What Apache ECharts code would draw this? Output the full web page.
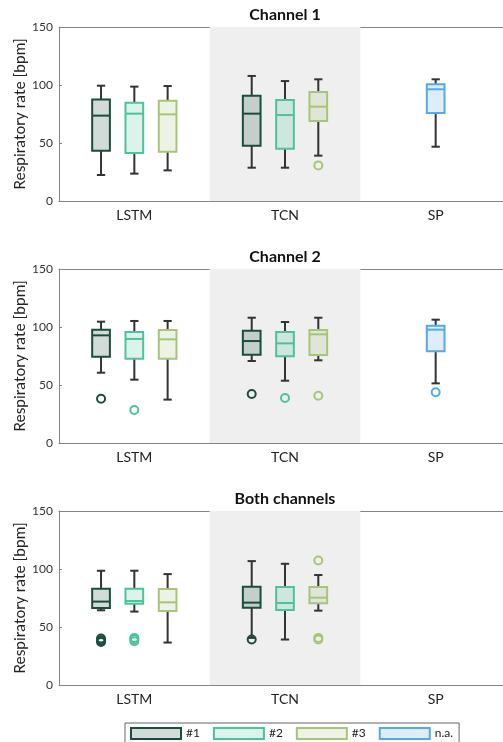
<!DOCTYPE html>
<html>
<head>
<meta charset="utf-8">
<script src="https://cdn.jsdelivr.net/npm/echarts@6/dist/echarts.min.js"></script>
<style>html,body{margin:0;padding:0;background:#fff}#c{width:503px;height:742px}</style>
</head>
<body>
<div id="c"></div>
<script>
// ---- data ----
const categories = ['LSTM', 'TCN', 'SP'];
const groupNames = ['#1', '#2', '#3', 'n.a.'];
const panelTitles = ['Channel 1', 'Channel 2', 'Both channels'];
const yTicks = [0, 50, 100, 150];
// box stats per category: [lowWhisker, Q1, median, Q3, highWhisker]; null = no box
const ch1_g1 = [[22.4, 43.4, 73.6, 87.6, 99.4], [28.7, 47.7, 75.3, 90.8, 107.8], null];
const ch1_g2 = [[23.6, 41.4, 75.3, 84.8, 98.6], [28.7, 45.1, 74.1, 87.1, 103.4], null];
const ch1_g3 = [[26.4, 42.5, 74.7, 86.5, 99.1], [39.1, 69.0, 81.3, 94.0, 104.9], null];
const ch1_na = [null, null, [46.8, 75.9, 96.3, 100.6, 104.9]];
const ch2_g1 = [[60.6, 74.4, 92.8, 97.7, 104.6], [70.7, 76.1, 87.9, 96.8, 108.0], null];
const ch2_g2 = [[54.6, 72.7, 89.7, 95.7, 105.2], [53.7, 74.7, 85.9, 95.7, 104.3], null];
const ch2_g3 = [[37.4, 72.7, 89.4, 97.4, 105.2], [71.3, 75.9, 93.7, 97.4, 108.0], null];
const ch2_na = [null, null, [51.4, 79.0, 97.7, 101.1, 106.3]];
const both_g1 = [[64.4, 66.4, 71.9, 83.0, 98.5], [40.6, 66.7, 71.0, 84.7, 106.8], null];
const both_g2 = [[63.3, 70.1, 72.4, 83.0, 98.5], [39.2, 64.7, 70.7, 84.5, 104.5], null];
const both_g3 = [[36.6, 63.8, 71.3, 82.7, 95.6], [64.1, 70.4, 75.3, 84.5, 94.8], null];
const both_na = [null, null, null];
// outliers: [categoryIndex, value]
const ch1_g1_out = [];
const ch1_g2_out = [];
const ch1_g3_out = [[1, 30.7]];
const ch1_na_out = [];
const ch2_g1_out = [[0, 38.2], [1, 42.2]];
const ch2_g2_out = [[0, 28.4], [1, 38.8]];
const ch2_g3_out = [[1, 40.8]];
const ch2_na_out = [[2, 43.7]];
const both_g1_out = [[0, 37.0], [0, 38.5], [0, 40.0], [1, 39.2]];
const both_g2_out = [[0, 37.8], [0, 39.5], [0, 40.6]];
const both_g3_out = [[1, 107.4], [1, 40.6], [1, 39.2]];
const both_na_out = [];

const panels = [
  { boxes: [ch1_g1, ch1_g2, ch1_g3, ch1_na], outs: [ch1_g1_out, ch1_g2_out, ch1_g3_out, ch1_na_out] },
  { boxes: [ch2_g1, ch2_g2, ch2_g3, ch2_na], outs: [ch2_g1_out, ch2_g2_out, ch2_g3_out, ch2_na_out] },
  { boxes: [both_g1, both_g2, both_g3, both_na], outs: [both_g1_out, both_g2_out, both_g3_out, both_na_out] }
];
// shaded band (TCN)
const bandData = ['-', 150, '-'];

// ---- styles ----
const strokes = ['#1b4d3b', '#4dc39a', '#a7c57a', '#56aae4'];
const fills = ['rgba(27,77,59,0.2)', 'rgba(77,195,154,0.2)', 'rgba(167,197,122,0.2)', 'rgba(86,170,228,0.2)'];
const slot = [-1, 0, 1, 0];
const SLOT_FRAC = 0.221, BOX_FRAC = 0.1175, CAP_FRAC = 0.055;
const whiskerColor = '#333';
const axisColor = '#858585';
const FONT = 'Lato';

const gridTops = [27, 269, 511];
const gridH = 174;

const grids = [], xAxes = [], yAxes = [], titles = [], series = [];
gridTops.forEach((top, p) => {
  grids.push({ left: 59, top: top, width: 452, height: gridH, outerBoundsMode: 'none', containLabel: false });
  xAxes.push({
    type: 'category', gridIndex: p, data: categories, boundaryGap: true,
    axisLine: { lineStyle: { color: axisColor, width: 1 } },
    axisTick: { inside: true, alignWithLabel: true, length: 3, lineStyle: { color: axisColor } },
    axisLabel: { color: '#222', fontFamily: FONT, fontSize: 14, margin: 7 },
    splitLine: { show: false }
  });
  xAxes.push({
    type: 'category', gridIndex: p, data: categories, boundaryGap: true, position: 'top',
    axisLine: { lineStyle: { color: axisColor, width: 1 } },
    axisTick: { inside: true, alignWithLabel: true, length: 3, lineStyle: { color: axisColor } },
    axisLabel: { show: false }, splitLine: { show: false }
  });
  yAxes.push({
    type: 'value', gridIndex: p, min: yTicks[0], max: yTicks[yTicks.length - 1], interval: 50,
    name: 'Respiratory rate [bpm]', nameLocation: 'middle', nameGap: 31, nameMoveOverlap: false,
    nameTextStyle: { color: '#222', fontFamily: FONT, fontSize: 15.5 },
    axisLine: { show: true, lineStyle: { color: axisColor, width: 1 } },
    axisTick: { show: true, inside: true, length: 3, lineStyle: { color: axisColor } },
    axisLabel: { color: '#333', fontFamily: FONT, fontSize: 12, margin: 6 },
    splitLine: { show: false }
  });
  titles.push({
    text: panelTitles[p], left: 285, top: top - 20, textAlign: 'center', padding: 0,
    textStyle: { fontFamily: FONT, fontWeight: 'bold', fontSize: 16, color: '#111' }
  });
  series.push({
    type: 'bar', xAxisIndex: p * 2, yAxisIndex: p, data: bandData, barWidth: '100%',
    itemStyle: { color: '#efefef' }, silent: true, z: 0, animation: false
  });
  panels[p].boxes.forEach((arr, g) => {
    const data = [];
    arr.forEach((b, ci) => { if (b) data.push([ci].concat(b)); });
    series.push({
      type: 'custom', name: groupNames[g], xAxisIndex: p * 2, yAxisIndex: p, z: 3,
      itemStyle: { color: fills[g], borderColor: strokes[g] },
      encode: { x: 0, y: [1, 2, 3, 4, 5] },
      data: data,
      renderItem: function (params, api) {
        const ci = api.value(0);
        const bw = api.size([1, 0])[0];
        const cx = api.coord([ci, 0])[0] + slot[g] * SLOT_FRAC * bw;
        const yy = [1, 2, 3, 4, 5].map(k => api.coord([ci, api.value(k)])[1]);
        const hw = BOX_FRAC * bw / 2, cw = CAP_FRAC * bw / 2;
        const wl = { stroke: whiskerColor, lineWidth: 2 };
        return {
          type: 'group', children: [
            { type: 'line', shape: { x1: cx, y1: yy[0], x2: cx, y2: yy[1] }, style: wl },
            { type: 'line', shape: { x1: cx, y1: yy[3], x2: cx, y2: yy[4] }, style: wl },
            { type: 'line', shape: { x1: cx - cw, y1: yy[0], x2: cx + cw, y2: yy[0] }, style: wl },
            { type: 'line', shape: { x1: cx - cw, y1: yy[4], x2: cx + cw, y2: yy[4] }, style: wl },
            { type: 'rect', shape: { x: cx - hw, y: yy[3], width: 2 * hw, height: yy[1] - yy[3] },
              style: { fill: fills[g], stroke: strokes[g], lineWidth: 2 } },
            { type: 'line', shape: { x1: cx - hw, y1: yy[2], x2: cx + hw, y2: yy[2] },
              style: { stroke: strokes[g], lineWidth: 2 } }
          ]
        };
      }
    });
    series.push({
      type: 'custom', name: groupNames[g], xAxisIndex: p * 2, yAxisIndex: p, z: 4,
      itemStyle: { color: fills[g], borderColor: strokes[g] },
      encode: { x: 0, y: 1 },
      data: panels[p].outs[g],
      renderItem: function (params, api) {
        const ci = api.value(0);
        const bw = api.size([1, 0])[0];
        const cx = api.coord([ci, 0])[0] + slot[g] * SLOT_FRAC * bw;
        const cy = api.coord([ci, api.value(1)])[1];
        return { type: 'circle', shape: { cx: cx, cy: cy, r: 4 },
          style: { fill: 'none', stroke: strokes[g], lineWidth: 2 } };
      }
    });
  });
});

const chart = echarts.init(document.getElementById('c'), null, { renderer: 'canvas' });
chart.setOption({
  animation: false,
  backgroundColor: '#fff',
  title: titles,
  grid: grids,
  xAxis: xAxes,
  yAxis: yAxes,
  legend: {
    left: 125, top: 723, orient: 'horizontal',
    borderColor: '#666', borderWidth: 1, padding: [4, 6, 8, 5],
    itemWidth: 50, itemHeight: 11, itemGap: 13,
    textStyle: { fontFamily: FONT, fontSize: 12, color: '#222' },
    selectedMode: false,
    data: groupNames.map((n, g) => ({
      name: n, icon: 'rect',
      itemStyle: { color: fills[g], borderColor: strokes[g], borderWidth: 2 }
    }))
  },
  series: series
});
</script>
</body>
</html>
